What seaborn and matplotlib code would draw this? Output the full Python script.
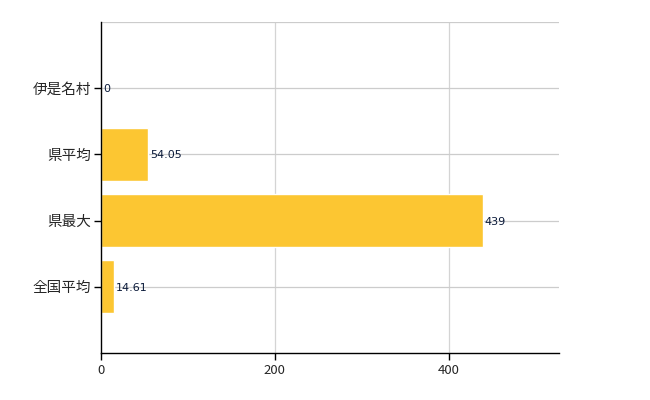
import matplotlib
matplotlib.use("Agg")
import matplotlib.pyplot as plt
import pandas as pd
import seaborn as sns

# データ
categories = ['伊是名村', '県平均', '県最大', '全国平均']
values = [0, 54.05, 439, 14.61]
labels = ['0', '54.05', '439', '14.61']

df = pd.DataFrame({'area': categories, 'value': values})

sns.set_style('white')
plt.rcParams['font.family'] = ['Noto Sans CJK JP', 'DejaVu Sans']

fig = plt.figure(figsize=(6.5, 4), dpi=100)
ax = fig.add_axes([101 / 650, 47 / 400, 458 / 650, 331 / 400])

sns.barplot(data=df, x='value', y='area', orient='h', color='#FCC632',
            saturation=1, width=0.8, ax=ax, zorder=2)

ax.set_xlim(0, 439 * 1.2)
ax.set_ylim(4, -1)
ax.set_xticks([0, 200, 400])
ax.set_yticks(range(len(categories)))
ax.set_yticklabels(categories)

# グリッド
for x in [200, 400]:
    ax.axvline(x, color='#d4d4d4', lw=0.9, zorder=0)
for y in range(-1, len(categories)):
    ax.axhline(y, color='#cccccc', lw=0.9, zorder=0)

for s in ['top', 'right']:
    ax.spines[s].set_visible(False)
for s in ['left', 'bottom']:
    ax.spines[s].set_color('black')
    ax.spines[s].set_linewidth(1)

ax.tick_params(axis='both', which='major', length=5, width=1, color='black',
               bottom=True, left=True)
ax.tick_params(axis='x', labelsize=9.5, pad=3)
ax.tick_params(axis='y', labelsize=10.5, pad=2)
ax.set_xlabel('')
ax.set_ylabel('')

# 値ラベル
for i, (v, t) in enumerate(zip(values, labels)):
    ax.annotate(t, (v, i), xytext=(1.5, 0), textcoords='offset points',
                va='center_baseline', ha='left', fontsize=8, color='#0a1a3a',
                family=['DejaVu Sans'], zorder=3)

fig.savefig('out.png', dpi=100)
